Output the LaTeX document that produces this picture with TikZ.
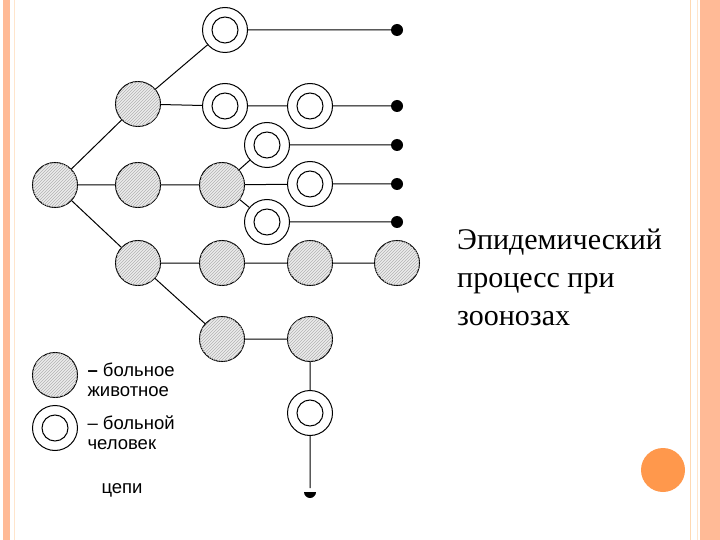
\documentclass[tikz,border=0pt]{standalone}
\usepackage{fontspec}
\setmainfont{Liberation Serif}
\newfontfamily\sansf{Liberation Sans}
\usetikzlibrary{patterns}
\begin{document}
\begin{tikzpicture}[x=1pt,y=-1pt,
  animal/.style={circle,draw,line width=1pt,minimum size=45pt,inner sep=0pt,fill=gray!15,postaction={pattern=north east lines,pattern color=gray!60}},
  human/.style={circle,draw,line width=1pt,minimum size=45pt,inner sep=0pt,fill=white,path picture={\draw[line width=1pt] (path picture bounding box.center) circle (13pt);}},
  dot/.style={circle,fill=black,minimum size=12pt,inner sep=0pt},
  ln/.style={line width=1pt},
  lg/.style={font=\sansf\fontsize{18.5}{20}\selectfont,align=left,anchor=west}]
\useasboundingbox (0,0) rectangle (720,540);
\fill[white] (0,0) rectangle (720,540);
\fill[orange!35!pink!80] (3,0) rectangle (10,540);
\fill[orange!35!pink!80] (700,0) rectangle (720,540);
\draw[orange!30,line width=1pt] (690,0) -- (690,540);
\draw[orange!20,line width=0.6pt] (14,0) -- (14,540);
\draw[orange!20,line width=0.6pt] (697,0) -- (697,540);

\node[animal] (a0) at (55,185) {};
\node[animal] (a1) at (138,104) {};
\node[animal] (a2) at (138,185) {};
\node[animal] (a3) at (138,263) {};
\node[human] (h1) at (225,30) {};
\node[human] (h2) at (225,106) {};
\node[human] (h3) at (310,106) {};
\node[animal] (a4) at (222,185) {};
\node[human] (h4) at (267,145) {};
\node[human] (h5) at (310,184) {};
\node[human] (h6) at (267,222) {};
\node[animal] (a5) at (222,263) {};
\node[animal] (a6) at (310,263) {};
\node[animal] (a7) at (397,263) {};
\node[animal] (a8) at (222,339) {};
\node[animal] (a9) at (310,339) {};
\node[human] (h7) at (310,413) {};
\node[dot] (d1) at (397,30) {};
\node[dot] (d2) at (397,106) {};
\node[dot] (d3) at (397,145) {};
\node[dot] (d4) at (397,184) {};
\node[dot] (d5) at (397,222) {};
\coordinate (e) at (310,488);
\fill (304,492) arc (180:0:6) -- cycle;

\draw[ln] (a0)--(a1) (a0)--(a2) (a0)--(a3);
\draw[ln] (a1)--(h1) (a1)--(h2) (h2)--(h3) (h3)--(d2) (h1)--(d1);
\draw[ln] (a2)--(a4) (a4)--(h4) (a4)--(h5) (a4)--(h6) (h4)--(d3) (h5)--(d4) (h6)--(d5);
\draw[ln] (a3)--(a5) (a5)--(a6) (a6)--(a7) (a3)--(a8) (a8)--(a9) (a9)--(h7) (h7)--(e);

\node[animal] (la) at (55,375) {};
\node[human] (lh) at (55,428) {};
\node[lg] (ta) at (84,380) {\textbf{–} больное\\животное};
\node[lg] (th) at (84,433) {– больной\\человек};
\node[lg] (tc) at (98,490) {цепи};

\node[anchor=north west,align=left,inner sep=0pt,font=\fontsize{30}{38}\selectfont] (title) at (457,229) {Эпидемический\\процесс при\\зоонозах};
\node[circle,fill=orange!85!red!70,minimum size=44pt,inner sep=0pt] (oc) at (663,470) {};
\end{tikzpicture}
\end{document}
